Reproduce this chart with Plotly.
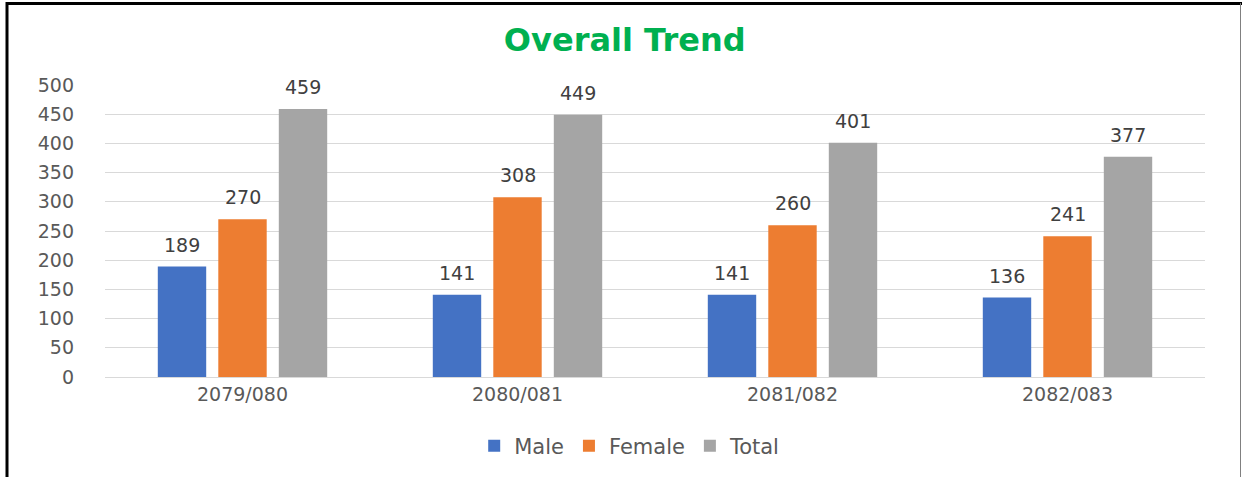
import plotly.graph_objects as go

categories = ["2079/080", "2080/081", "2081/082", "2082/083"]
male = [189, 141, 141, 136]
female = [270, 308, 260, 241]
total = [459, 449, 401, 377]
series_names = ["Male", "Female", "Total"]
colors = ["#4472C4", "#ED7D31", "#A5A5A5"]
yticks = [0, 50, 100, 150, 200, 250, 300, 350, 400, 450, 500]

W, H = 1242, 477
L, R, T, B = 105, 37, 85, 100
pw, ph = W - L - R, H - T - B

def px_x(p):
    return (p - L) / pw

def px_y(p):
    return (H - B - p) / ph

font = "DejaVu Sans"
fs = 19
bargap = 0.34
pitch = pw / len(categories) * (1 - bargap) / 3

fig = go.Figure()
annotations = []
for i, (name, vals, col) in enumerate(zip(series_names, [male, female, total], colors)):
    fig.add_trace(go.Bar(
        x=categories, y=vals, name=name, marker_color=col,
        marker_line_width=0,
    ))
    for c, v in zip(categories, vals):
        annotations.append(dict(
            x=c, y=v, xref="x", yref="y", text=str(v), showarrow=False,
            xshift=(i - 1) * pitch, yshift=22, yanchor="middle", xanchor="center",
            font=dict(family=font, size=fs, color="#404040"),
        ))

fig.update_layout(
    width=W, height=H,
    margin=dict(l=L, r=R, t=T, b=B, autoexpand=False),
    paper_bgcolor="white", plot_bgcolor="white",
    barmode="group", bargap=bargap, bargroupgap=0.2,
    title=dict(text="<b>Overall Trend</b>", x=0.503, xanchor="center", y=1 - 40 / H, yanchor="middle",
               font=dict(family=font, size=32, color="#00B050")),
    xaxis=dict(showgrid=False, showline=True, linecolor="#D9D9D9", linewidth=1,
               tickfont=dict(family=font, size=fs, color="#595959"), ticks="", fixedrange=True),
    yaxis=dict(range=[0, 500], tickvals=yticks, showgrid=True, gridcolor="#D9D9D9", gridwidth=1,
               zeroline=False, showline=False, ticks="", ticklabelstandoff=30, fixedrange=True,
               tickfont=dict(family=font, size=fs, color="#595959")),
    legend=dict(orientation="h", x=0.477, xanchor="center", y=px_y(446), yanchor="middle",
                font=dict(family=font, size=21, color="#595959"), itemwidth=30,
                traceorder="normal", itemsizing="constant"),
    showlegend=True,
    annotations=annotations,
    shapes=[
        dict(type="line", xref="paper", yref="paper", x0=px_x(7), x1=px_x(7), y0=px_y(2), y1=px_y(477),
             line=dict(color="black", width=3)),
        dict(type="line", xref="paper", yref="paper", x0=px_x(6), x1=px_x(1242), y0=px_y(3.5), y1=px_y(3.5),
             line=dict(color="black", width=3)),
        dict(type="line", xref="paper", yref="paper", x0=px_x(1240.5), x1=px_x(1240.5), y0=px_y(3), y1=px_y(477),
             line=dict(color="#808080", width=1)),
    ],
)

fig.write_html("out.html", config={"displayModeBar": False},
               post_script="document.body.style.margin='0';document.body.style.overflow='hidden';")
